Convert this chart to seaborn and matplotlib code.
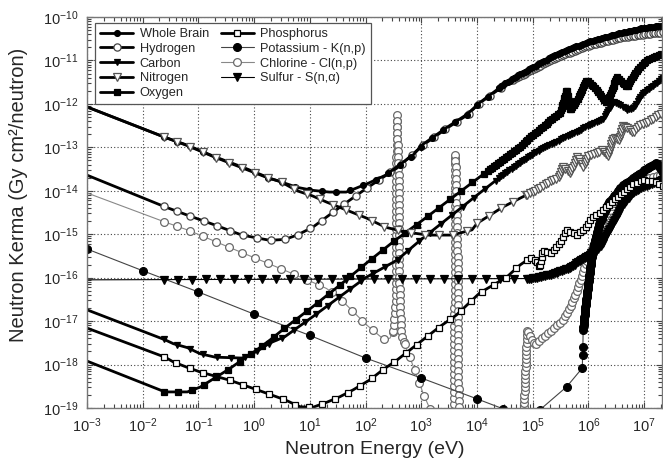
import numpy as np
import matplotlib
matplotlib.use("Agg")
import matplotlib.pyplot as plt
from matplotlib.lines import Line2D
from matplotlib.ticker import LogLocator, NullFormatter
import seaborn as sns

# values as (log10 energy [eV], log10 kerma [Gy cm2/neutron])
whole_brain = [(-3, -12.07), (-1.6, -12.77), (-1.2, -12.95), (-0.7, -13.22), (-0.22, -13.45),
               (0.28, -13.71), (0.77, -13.92), (1.05, -13.99), (1.35, -14.03), (1.65, -14.03),
               (1.83, -13.94), (2.06, -13.82), (2.36, -13.64), (2.56, -13.45), (2.85, -13.18),
               (3.03, -12.93), (3.46, -12.54), (3.82, -12.24), (4.05, -11.97), (4.54, -11.5),
               (4.8, -11.3), (5.36, -10.9), (5.97, -10.58), (6.56, -10.37), (7.0, -10.25),
               (7.34, -10.19)]
hydrogen = [(-3, -13.64), (-1.6, -14.37), (-1.2, -14.56), (-0.7, -14.79), (-0.22, -15.02),
            (0.28, -15.14), (0.55, -15.12), (0.77, -15.02), (1.05, -14.84), (1.59, -14.33),
            (2.02, -13.94), (2.56, -13.48), (3.03, -12.95), (3.46, -12.56), (3.82, -12.26),
            (4.05, -11.98), (4.54, -11.53), (4.8, -11.34), (5.36, -10.97), (5.97, -10.67),
            (6.56, -10.48), (7.0, -10.4), (7.34, -10.35)]
carbon = [(-3, -16.74), (-1.6, -17.43), (-1.45, -17.52), (-1.2, -17.61), (-0.97, -17.75),
          (-0.7, -17.83), (-0.22, -17.85), (0.03, -17.71), (0.29, -17.5), (0.55, -17.36),
          (1.05, -16.9), (2.0, -16.0), (2.56, -15.6), (2.98, -15.14), (4.05, -14.05),
          (4.35, -13.75), (4.77, -13.35), (5.2, -13.0), (5.67, -12.72), (6.0, -12.5),
          (6.26, -12.35), (6.45, -11.95), (6.6, -12.05), (6.69, -12.14), (6.8, -12.1),
          (6.98, -11.76), (7.15, -11.6), (7.34, -11.39)]
nitrogen = [(-3, -12.07), (-1.6, -12.77), (-1.2, -12.96), (-0.7, -13.23), (-0.22, -13.47),
            (0.28, -13.72), (0.46, -13.78), (0.77, -14.0), (1.05, -14.12), (1.3, -14.26),
            (1.65, -14.44), (2.02, -14.63), (2.36, -14.84), (2.72, -14.95), (3.13, -15.02),
            (3.55, -15.02), (3.91, -14.9), (4.0, -14.75), (4.47, -14.37), (4.82, -14.14),
            (5.07, -13.98), (5.3, -13.8), (5.49, -13.68), (5.54, -13.45), (5.67, -13.6),
            (5.8, -13.22), (5.91, -13.45), (6.0, -13.2), (6.15, -13.14), (6.26, -13.06),
            (6.35, -13.2), (6.45, -12.76), (6.55, -12.85), (6.62, -12.49), (6.8, -12.67),
            (6.9, -12.5), (7.05, -12.44), (7.2, -12.3), (7.34, -12.21)]
oxygen = [(-3, -17.92), (-1.6, -18.63), (-1.45, -18.63), (-1.2, -18.63), (-0.97, -18.52),
          (-0.47, -18.12), (0.05, -17.66), (0.29, -17.43), (0.55, -17.16), (1.05, -16.67),
          (1.54, -16.17), (2.02, -15.66), (2.53, -15.14), (3.03, -14.67), (4.05, -13.68),
          (4.77, -12.99), (4.9, -12.83), (5.2, -12.5), (5.49, -12.21), (5.61, -11.68),
          (5.67, -12.14), (5.8, -11.9), (5.97, -11.45), (6.15, -11.68), (6.33, -11.98),
          (6.51, -11.38), (6.69, -11.61), (6.87, -11.22), (7.05, -10.99), (7.34, -10.83)]
phosphorus = [(-3, -17.16), (-1.6, -17.83), (-1.45, -17.94), (-1.21, -18.06), (-0.97, -18.17),
              (-0.44, -18.36), (0.05, -18.58), (0.55, -18.81), (0.82, -18.97), (1.04, -18.99),
              (1.3, -18.87), (1.54, -18.74), (1.78, -18.58), (2.08, -18.35), (2.31, -18.12),
              (2.56, -17.9), (3.03, -17.43), (3.33, -17.13), (3.63, -16.86), (4.05, -16.35),
              (4.53, -15.99), (4.77, -15.71), (4.95, -15.55), (5.07, -15.6), (5.13, -15.76),
              (5.18, -15.37), (5.31, -15.44), (5.49, -15.2), (5.61, -14.9), (5.8, -15.02),
              (5.97, -14.83), (6.03, -14.67), (6.26, -14.44), (6.45, -14.22), (6.6, -14.05),
              (6.8, -13.85), (7.0, -13.75), (7.2, -13.8), (7.34, -13.9)]
potassium = [(-3, -15.34), (-2, -15.84), (-1, -16.33), (0, -16.84), (1, -17.33), (2, -17.85),
             (3, -18.31), (4, -18.79), (4.47, -19.02), (4.9, -19.3), (5.13, -19.04),
             (5.61, -18.51), (5.89, -18.08), (5.895, -17.78), (5.9, -17.59), (5.905, -17.2),
             (5.95, -16.6), (6.0, -16.1), (6.05, -15.6), (6.1, -15.25), (6.2, -14.75),
             (6.35, -14.3), (6.6, -13.9), (6.9, -13.62), (7.1, -13.45), (7.23, -13.36),
             (7.34, -13.6)]
chlorine = [(-3, -14.05), (-1.6, -14.72), (-1.2, -14.9), (-0.97, -15.02), (-0.47, -15.29),
            (0.02, -15.55), (0.51, -15.81), (1.04, -16.1), (1.3, -16.25), (1.54, -16.48),
            (2.02, -17.09), (2.27, -17.36), (2.35, -17.43), (2.44, -17.39), (2.5, -17.2),
            (2.54, -16.5), (2.55, -14.0), (2.56, -12.26), (2.6, -14.0), (2.61, -16.5),
            (2.64, -17.3), (2.74, -17.66), (2.8, -17.85), (3.03, -18.65), (3.16, -19.04),
            (3.4, -19.6), (3.58, -19.3), (3.6, -16.0), (3.61, -13.14), (3.66, -16.0),
            (3.67, -19.3), (4.2, -19.8), (4.83, -19.3), (4.9, -17.2), (4.95, -17.36),
            (5.05, -17.55), (5.13, -17.43), (5.36, -17.2), (5.54, -16.97), (5.67, -16.67),
            (5.8, -16.28), (5.91, -15.83), (6.03, -15.44), (6.15, -15.06), (6.26, -14.67),
            (6.45, -14.29), (6.6, -14.05), (6.8, -13.85), (7.0, -13.72), (7.2, -13.68),
            (7.34, -13.62)]
sulfur = [(-3, -16.05), (5.0, -16.02), (5.36, -15.92), (5.67, -15.77), (5.91, -15.56),
          (6.09, -15.41), (6.21, -15.29), (6.4, -14.85), (6.6, -14.35), (6.8, -14.05),
          (7.0, -13.9), (7.34, -13.75)]

labels = ["Whole Brain", "Hydrogen", "Carbon", "Nitrogen", "Oxygen",
          "Phosphorus", "Potassium - K(n,p)", "Chlorine - Cl(n,p)", "Sulfur - S(n,\u03b1)"]
series = [whole_brain, hydrogen, carbon, nitrogen, oxygen,
          phosphorus, potassium, chlorine, sulfur]

# line / marker style per series, and marker spacing (logE range, pixel step; 0 = at read points)
styles = [
    dict(color="black", lw=2.0, marker="o", mfc="black", mec="black", ms=4.2,
         marks=[(-1.62, 4.4, 14), (4.4, 7.4, 2.5)]),
    dict(color="black", lw=2.0, marker="o", mfc="white", mec="#444444", ms=5.2,
         marks=[(-1.62, 4.7, 14), (4.7, 7.4, 2.5)]),
    dict(color="black", lw=2.0, marker="v", mfc="black", mec="black", ms=4.6,
         marks=[(-1.62, 4.4, 14), (4.4, 7.4, 2.5)]),
    dict(color="black", lw=2.0, marker="v", mfc="white", mec="#555555", ms=5.2,
         marks=[(-1.62, 4.9, 14), (4.9, 7.4, 3)]),
    dict(color="black", lw=2.0, marker="s", mfc="black", mec="black", ms=4.2,
         marks=[(-1.62, 4.2, 14), (4.2, 7.4, 2.5)]),
    dict(color="black", lw=2.0, marker="s", mfc="white", mec="black", ms=4.8,
         marks=[(-1.62, 4.9, 14), (4.9, 7.4, 4)]),
    dict(color="#444444", lw=0.8, marker="o", mfc="black", mec="black", ms=5.6,
         marks=[(-3.1, 5.91, 0), (5.91, 7.4, 2)]),
    dict(color="#888888", lw=0.8, marker="o", mfc="white", mec="#6a6a6a", ms=5.6,
         marks=[(-1.62, 2.49, 14), (2.49, 2.7, 6), (2.7, 3.5, 14), (3.5, 3.75, 6),
                (4.8, 7.4, 4)]),
    dict(color="black", lw=0.8, marker="v", mfc="black", mec="black", ms=5.2,
         marks=[(-1.62, 4.9, 14), (4.9, 7.4, 2)]),
]
draw_order = [7, 6, 8, 5, 2, 4, 1, 0, 3]


def marker_points(ax, pts, ranges):
    '''Spread markers along the drawn path at a fixed on-screen spacing.'''
    pts = np.asarray(pts, dtype=float)
    disp = ax.transData.transform(10 ** pts)
    s = np.concatenate([[0.0], np.cumsum(np.hypot(*np.diff(disp, axis=0).T))])
    fine = np.arange(0, s[-1], 0.25)
    le_f = np.interp(fine, s, pts[:, 0])
    out = []
    for lo, hi, step in ranges:
        if step == 0:
            sel = (pts[:, 0] >= lo) & (pts[:, 0] <= hi)
            out.append(disp[sel])
            continue
        inside = fine[(le_f >= lo) & (le_f <= hi)]
        if inside.size == 0:
            continue
        t = np.arange(inside[0], inside[-1] + 1e-9, step)
        le_t = np.interp(t, s, pts[:, 0])
        t = t[(le_t >= lo) & (le_t <= hi)]
        out.append(np.column_stack([np.interp(t, s, disp[:, 0]),
                                    np.interp(t, s, disp[:, 1])]))
    return ax.transData.inverted().transform(np.vstack(out))


sns.set_style("ticks")
plt.rcParams['font.family'] = ['Liberation Sans', 'DejaVu Sans']

fig = plt.figure(figsize=(6.63, 4.65), dpi=100)
ax = fig.add_axes([87 / 663, 57 / 465, 575 / 663, 391 / 465])
ax.set_xscale("log")
ax.set_yscale("log")
ax.set_xlim(1e-3, 10 ** 7.32)
ax.set_ylim(1e-19, 1e-10)

for i in draw_order:
    pts = np.asarray(series[i], dtype=float)
    st = styles[i]
    sns.lineplot(x=10 ** pts[:, 0], y=10 ** pts[:, 1], ax=ax, color=st["color"],
                 lw=st["lw"], sort=False, estimator=None, legend=False)
    m = marker_points(ax, pts, st["marks"])
    ax.plot(m[:, 0], m[:, 1], ls="none", marker=st["marker"], mfc=st["mfc"],
            mec=st["mec"], ms=st["ms"], mew=0.9)

handles = [Line2D([], [], color=st["color"], lw=st["lw"], marker=st["marker"],
                  mfc=st["mfc"], mec=st["mec"], ms=st["ms"], mew=0.9)
           for st in styles]
leg = ax.legend(handles, labels, ncol=2, loc="upper left", bbox_to_anchor=(0.014, 0.985),
                borderaxespad=0, fontsize=9.2, handlelength=2.6, handletextpad=0.5,
                columnspacing=0.9, labelspacing=0.22, borderpad=0.4,
                fancybox=False, framealpha=1, edgecolor="#555555")
leg.get_frame().set_linewidth(0.9)

ax.grid(True, which="major", ls=(0, (1, 2)), color="#444444", lw=0.8)
ax.set_xticks([10.0 ** k for k in range(-3, 8)])
ax.set_yticks([10.0 ** k for k in range(-19, -9)])
for axis in (ax.xaxis, ax.yaxis):
    axis.set_minor_locator(LogLocator(base=10, subs=np.arange(2, 10), numticks=100))
    axis.set_minor_formatter(NullFormatter())
ax.tick_params(which="both", direction="in", top=True, right=True, labelsize=10.5,
               color="#444444")
ax.tick_params(which="major", length=4, pad=6)
ax.tick_params(which="minor", length=3, width=0.8)
for sp in ax.spines.values():
    sp.set_color("#777777")
    sp.set_linewidth(1.0)

ax.set_xlabel("Neutron Energy (eV)", fontsize=14)
ax.set_ylabel("Neutron Kerma (Gy cm\u00b2/neutron)", fontsize=14.5)
ax.xaxis.set_label_coords(0.5, -0.085)
ax.yaxis.set_label_coords(-0.102, 0.545)

fig.savefig("out.png", dpi=100)
